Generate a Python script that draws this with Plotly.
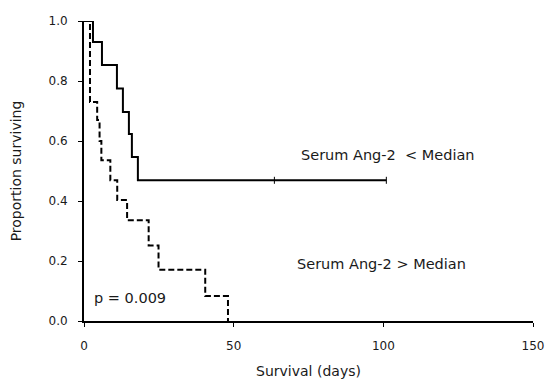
import plotly.graph_objects as go

# Kaplan-Meier curves
low_days = [0, 3, 6, 11, 13, 15, 16, 18, 101]
low_surv = [1.0, 0.93, 0.853, 0.775, 0.697, 0.623, 0.547, 0.469, 0.469]
low_censor_days = [63.6, 101]
low_censor_surv = [0.469, 0.469]

high_days = [0, 2, 4.4, 5.2, 5.8, 8.8, 11.1, 14.4, 21.6, 24.9, 40.5, 48.1]
high_surv = [1.0, 0.73, 0.67, 0.60, 0.536, 0.469, 0.403, 0.336, 0.252, 0.171, 0.083, 0.0]

x_ticks = [0, 50, 100, 150]
y_ticks = [0.0, 0.2, 0.4, 0.6, 0.8, 1.0]
y_ticktext = ["0.0", "0.2", "0.4", "0.6", "0.8", "1.0"]

label_low = "Serum Ang-2  < Median"
label_high = "Serum Ang-2 > Median"
p_text = "p = 0.009"

FONT = "DejaVu Sans"
INK = "#1a1a1a"

fig = go.Figure()
fig.add_trace(go.Scatter(x=high_days, y=high_surv, mode="lines", line_shape="hv",
                         line=dict(color="black", width=2, dash="6px,3px"),
                         showlegend=False, hoverinfo="skip"))
fig.add_trace(go.Scatter(x=low_days, y=low_surv, mode="lines", line_shape="hv",
                         line=dict(color="black", width=2),
                         showlegend=False, hoverinfo="skip"))
fig.add_trace(go.Scatter(x=low_censor_days, y=low_censor_surv, mode="markers",
                         marker=dict(symbol="line-ns", size=5,
                                     line=dict(color="black", width=1)),
                         showlegend=False, hoverinfo="skip"))

fig.add_annotation(x=101.5, y=0.555, text=label_low, showarrow=False,
                   font=dict(family=FONT, size=14.5, color=INK))
fig.add_annotation(x=99.5, y=0.19, text=label_high, showarrow=False,
                   font=dict(family=FONT, size=14.5, color=INK))
fig.add_annotation(x=15.5, y=0.078, text=p_text, showarrow=False,
                   font=dict(family=FONT, size=14.5, color=INK))

fig.update_layout(
    width=547, height=383,
    margin=dict(l=83.5, r=13.7, t=21, b=62.3),
    paper_bgcolor="white", plot_bgcolor="white",
    font=dict(family=FONT, color=INK),
)
fig.update_xaxes(range=[0, 150], tickvals=x_ticks, showgrid=False, zeroline=False,
                 automargin=False,
                 showline=True, linecolor="black", linewidth=2,
                 ticks="outside", ticklen=4, tickwidth=1, tickcolor="black",
                 tickfont=dict(family=FONT, size=12, color=INK),
                 ticklabelstandoff=9,
                 title=dict(text="Survival (days)", standoff=14,
                            font=dict(family=FONT, size=14, color=INK)))
fig.update_yaxes(range=[0, 1.0], tickvals=y_ticks, ticktext=y_ticktext,
                 showgrid=False, zeroline=False,
                 automargin=False,
                 showline=True, linecolor="black", linewidth=2,
                 ticks="outside", ticklen=4, tickwidth=1, tickcolor="black",
                 tickfont=dict(family=FONT, size=12, color=INK),
                 ticklabelstandoff=8,
                 title=dict(text="Proportion surviving", standoff=24,
                            font=dict(family=FONT, size=14, color=INK)))

fig.write_html("out.html")
